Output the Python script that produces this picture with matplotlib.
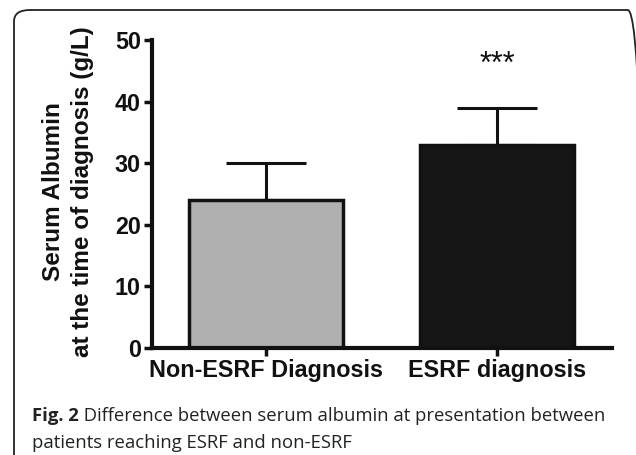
import matplotlib
matplotlib.use("Agg")
import matplotlib.pyplot as plt
from matplotlib.patches import FancyBboxPatch

# data
groups = ["Non-ESRF Diagnosis", "ESRF diagnosis"]
means = [24, 33]
sd_upper = [6, 6]
bar_colors = ["#b0b0b0", "#161616"]
sig_label = "***"
sig_y = 46.0
y_ticks = [0, 10, 20, 30, 40, 50]

fig = plt.figure(figsize=(6.36, 4.55), dpi=100)
ax = fig.add_axes([152 / 636, 1 - 348 / 455, 460 / 636, 308 / 455])

x = list(range(len(groups)))
ax.bar(x, means, width=0.67, color=bar_colors, edgecolor="#111111",
       linewidth=2.5, zorder=2)
ax.errorbar(x, means, yerr=[[0, 0], sd_upper], fmt="none", ecolor="#111111",
            elinewidth=2.2, capsize=29, capthick=2.2, zorder=1)
ax.text(1, sig_y, sig_label, ha="center", va="center", fontsize=22,
        family="Liberation Sans", color="#111111")

ax.set_xlim(-0.4935, 1.498)
ax.set_ylim(0, 50)
ax.set_yticks(y_ticks)
ax.set_xticks(x)
ax.set_xticklabels(groups)
for s in ["top", "right"]:
    ax.spines[s].set_visible(False)
for s in ["left", "bottom"]:
    ax.spines[s].set_linewidth(3)
    ax.spines[s].set_color("#111111")
ax.tick_params(axis="both", width=2.5, length=6, color="#111111", pad=2)
for lab in ax.get_xticklabels() + ax.get_yticklabels():
    lab.set_family("Liberation Sans")
    lab.set_weight("bold")
    lab.set_fontsize(16.8)
    lab.set_color("#111111")

fig.text(68 / 636, 1 - 192 / 455, "Serum Albumin\nat the time of diagnosis (g/L)",
         rotation=90, ha="center", va="center", fontsize=17.5, weight="bold",
         family="Liberation Sans", color="#111111", linespacing=1.3)

# frame around figure
frame = FancyBboxPatch((14 / 636, -0.05), 0.99, 1 - 10 / 455 + 0.05,
                       boxstyle="round,pad=0,rounding_size=0.025",
                       transform=fig.transFigure, fill=False,
                       edgecolor="#222222", linewidth=1.3)
fig.patches.append(frame)

# caption
t1 = fig.text(32 / 636, 1 - 421 / 455, "Fig. 2", fontsize=13.3, weight="bold",
              family="Open Sans", color="#222222")
ax.annotate(" Difference between serum albumin at presentation between",
            xy=(1, 0), xycoords=t1, va="bottom", fontsize=13.3,
            family="Open Sans", color="#222222", annotation_clip=False)
fig.text(32 / 636, 1 - 448 / 455, "patients reaching ESRF and non-ESRF",
         fontsize=13.3, family="Open Sans", color="#222222")

fig.savefig("out.png", dpi=100)
